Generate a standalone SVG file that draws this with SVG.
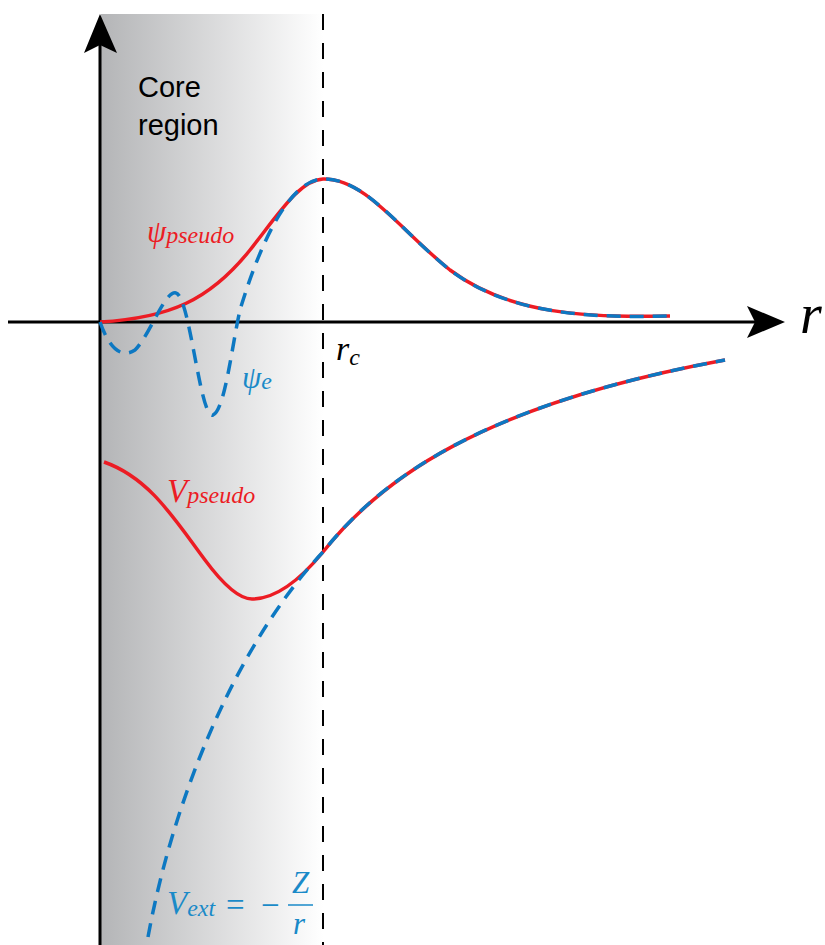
<svg xmlns="http://www.w3.org/2000/svg" width="825" height="945" viewBox="0 0 825 945">
<defs>
<linearGradient id="core" x1="0" y1="0" x2="1" y2="0">
<stop offset="0" stop-color="#b4b5b7"/>
<stop offset="1" stop-color="#ffffff"/>
</linearGradient>
<style>
.axis{stroke:#000;stroke-width:3;fill:none}
.red{stroke:#ec1c24;stroke-width:3.5;fill:none}
.blue{stroke:#0d78c2;stroke-width:3.5;fill:none;stroke-dasharray:14 9}
.math{font-family:'Liberation Serif','Times New Roman',serif;font-style:italic}
.lbl{font-family:'Liberation Sans',Arial,sans-serif;font-size:29px;fill:#000}
</style>
</defs>
<rect id="core-region" x="101" y="14" width="222" height="931" fill="url(#core)"/>
<g id="labels-core"><text class="lbl" x="138" y="97">Core</text><text class="lbl" x="138" y="135">region</text></g>
<g id="rc-line"><line x1="323" y1="14" x2="323" y2="945" stroke="#000" stroke-width="2" stroke-dasharray="16 13"/></g>
<g id="axes">
<line class="axis" x1="8" y1="322" x2="760" y2="322"/>
<path d="M785,322 L747,306 L755,322 L747,338 Z" fill="#000"/>
<line class="axis" x1="100" y1="945" x2="100" y2="40"/>
<path d="M100,14 L84,53 L100,45 L117,53 Z" fill="#000"/>
</g>
<g id="connectors">
<path id="psi-pseudo" class="red" d="M100,322 C170,318 210,300 250,250 C280,212 300,180 323,179 C365,178 400,230 450,270 C510,315 590,318 670,316"/>
<path id="psi-e" class="blue" d="M100,322 C108,345 120,360 135,350 C150,335 165,290 176,293 C190,296 200,420 213,415 C225,410 232,345 240,310 C255,260 285,180 323,179 C365,178 400,230 450,270 C510,315 590,318 670,316"/>
<path id="v-pseudo" class="red" d="M104,462 C150,478 175,520 205,560 C225,587 240,599 252,599 C275,599 300,580 323,552 C380,480 480,405 725,360"/>
<path id="v-ext" class="blue" d="M148,937 C175,790 240,640 323,552 C380,480 480,405 725,360"/>
</g>
<g id="label-r"><text class="math" x="800" y="333" font-size="56" fill="#000">r</text></g>
<g id="label-rc"><text class="math" x="336" y="360" font-size="34" fill="#000">r<tspan font-size="24" dy="5">c</tspan></text></g>
<g id="label-psi-pseudo"><text class="math" x="147" y="242" font-size="31" fill="#ec1c24">ψ<tspan font-size="24" dy="1">pseudo</tspan></text></g>
<g id="label-psi-e"><text class="math" x="242" y="388" font-size="31" fill="#1a8ac8">ψ<tspan font-size="24" dy="1">e</tspan></text></g>
<g id="label-v-pseudo"><text class="math" x="167" y="502" font-size="33" fill="#ec1c24">V<tspan font-size="24" dy="1">pseudo</tspan></text></g>
<g id="label-v-ext" fill="#1a8ac8">
<text class="math" x="167" y="914" font-size="33">V<tspan font-size="24" dy="2">ext</tspan></text>
<text x="226" y="916" font-size="33" font-family="'Liberation Serif',serif">=</text>
<text x="261" y="916" font-size="33" font-family="'Liberation Serif',serif">−</text>
<text class="math" x="292" y="893" font-size="31">Z</text>
<line x1="288" y1="905" x2="313" y2="905" stroke="#1a8ac8" stroke-width="1.5"/>
<text class="math" x="293" y="934" font-size="31">r</text>
</g>
</svg>
